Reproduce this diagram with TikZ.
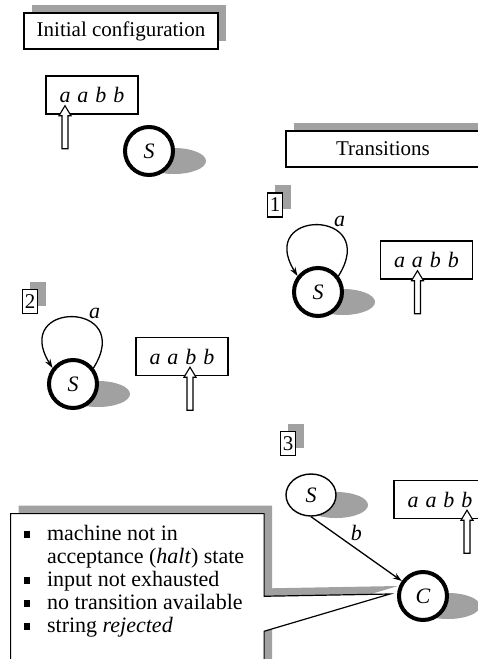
\documentclass[tikz,border=0pt]{standalone}
\usepackage{fontspec}
\setmainfont{Liberation Serif}
\usetikzlibrary{arrows.meta,calc,shadows,shapes.callouts,shapes.geometric}
\pgfdeclarelayer{back}
\pgfsetlayers{back,main}

\definecolor{shadowgray}{rgb}{0.63,0.63,0.63}

% hollow read head, tip at #1
\newcommand{\readhead}[1]{%
  \draw[line width=1.1pt, fill=white] (#1) -- ++(6,-10) -- ++(-3,0) -- ++(0,-33)
    -- ++(-6,0) -- ++(0,33) -- ++(-3,0) -- cycle;}
\newcommand{\tapeword}{\itshape a\hspace{7pt}a\hspace{7pt}b\hspace{7pt}b}
\newcommand{\boxbullet}{\rule[3pt]{6.5pt}{6.5pt}}

\begin{document}
\begin{tikzpicture}[x=1pt, y=1pt,
  every node/.style={font=\fontsize{21}{23}\selectfont},
  boxshadow/.style={drop shadow={shadow xshift=8pt, shadow yshift=8pt, fill=shadowgray, opacity=1}},
  titlebox/.style={draw, line width=1.3pt, fill=white, minimum width=194pt, minimum height=36pt, inner sep=0pt, boxshadow},
  stepbox/.style={draw, line width=1.2pt, fill=white, inner xsep=2.5pt, inner ysep=1pt, minimum height=24pt, boxshadow},
  tape/.style={draw, line width=1.4pt, fill=white, minimum width=92pt, minimum height=38pt, inner sep=0pt, font=\fontsize{22}{24}\selectfont},
  state/.style={circle, draw, line width=4pt, fill=white, minimum size=48pt, inner sep=0pt, font=\fontsize{22}{24}\selectfont\itshape},
  thinstate/.style={ellipse, draw, line width=1.4pt, fill=white, minimum width=50pt, minimum height=42pt, inner sep=0pt, font=\fontsize{22}{24}\selectfont\itshape},
  trans/.style={line width=1.3pt, -{Stealth[length=9pt, width=6pt]}},
  sym/.style={font=\fontsize{22}{24}\selectfont\itshape, inner sep=1pt},
  note/.style={rectangle callout, draw, line width=1.2pt, fill=white, callout pointer width=35pt, inner xsep=13pt, inner ysep=11pt, text height=16pt, text depth=202pt, font=\fontsize{22}{23}\selectfont, boxshadow}]

  \useasboundingbox (0,0) rectangle (478,-659);
  \clip (0,0) rectangle (478,-659);

  % initial configuration
  \node[titlebox] (init) at (121,-31) {Initial configuration};
  \node[tape] (tape0) at (92,-95) {\tapeword};
  \node[state] (s0) at (149,-151) {S};

  % transitions
  \node[titlebox] (trans) at (383,-149) {Transitions};

  \node[stepbox] (n1) at (275,-205) {1};
  \node[state] (s1) at (318,-292) {S};
  \node[tape] (tape1) at (426.5,-260) {\tapeword};

  \node[stepbox] (n2) at (30,-301.5) {2};
  \node[state] (s2) at (73,-384) {S};
  \node[tape] (tape2) at (182,-356.5) {\tapeword};

  \node[stepbox] (n3) at (288,-443.5) {3};
  \node[thinstate] (s3) at (311,-495) {S};
  \node[tape] (tape3) at (440,-499.5) {\tapeword};
  \node[state] (c3) at (423,-596) {C};

  \draw[trans] (s1.38) to[out=58, in=122, looseness=5] node[sym, pos=0.38, above right] {a} (s1.142);
  \draw[trans] (s2.38) to[out=58, in=122, looseness=5] node[sym, pos=0.38, above right] {a} (s2.142);
  \draw[trans] (s3.south) -- node[sym, above=6pt] {b} (c3);

  % read heads
  \coordinate (h0) at ($(tape0.south)+(-27,9)$);
  \coordinate (h1) at ($(tape1.south)+(-9,9)$);
  \coordinate (h2) at ($(tape2.south)+(8,9)$);
  \coordinate (h3) at ($(tape3.south)+(27,9)$);
  \readhead{h0}
  \readhead{h1}
  \readhead{h2}
  \readhead{h3}

  % why the string is rejected
  \node[note, anchor=north west, callout absolute pointer={($(c3.west)+(-7,2)$)}] (why) at (10,-513)
    {\begin{tabular}[t]{@{}p{6.5pt}@{\hspace{17pt}}p{204pt}@{}}
      \boxbullet & machine not in\\
                 & acceptance (\textit{halt}) state\\
      \boxbullet & input not exhausted\\
      \boxbullet & no transition available\\
      \boxbullet & string \textit{rejected}
    \end{tabular}};

  % state shadows
  \begin{pgfonlayer}{back}
    \foreach \s in {s0,s1,s2,s3,c3}
      \fill[shadowgray] ($(\s)+(25,-10)$) ellipse[x radius=32, y radius=13];
  \end{pgfonlayer}
\end{tikzpicture}
\end{document}
